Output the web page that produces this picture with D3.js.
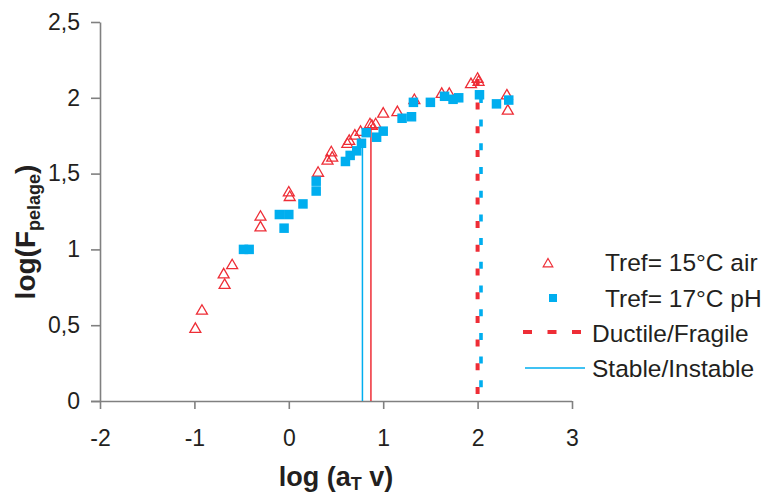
<!DOCTYPE html>
<html><head><meta charset="utf-8">
<script src="https://cdn.jsdelivr.net/npm/d3@7"></script>
<style>
body{margin:0;background:#fff;}
text{font-family:"Liberation Sans",Arial,sans-serif;fill:#231f20;}
</style></head>
<body>
<svg id="chart" width="769" height="495"></svg>
<script>
// ---- data ----
const airX = [-0.99,-0.92,-0.69,-0.68,-0.60,-0.30,-0.30,0.00,0.01,0.31,0.41,0.45,0.46,0.62,0.64,0.70,0.76,0.86,0.88,0.92,1.00,1.15,1.33,1.62,1.70,1.93,2.00,2.01,2.31,2.32];
const airY = [0.48,0.60,0.84,0.77,0.90,1.22,1.15,1.38,1.35,1.51,1.59,1.645,1.61,1.70,1.72,1.755,1.78,1.83,1.82,1.83,1.90,1.91,1.99,2.03,2.03,2.095,2.13,2.11,2.02,1.92];
const phX = [-0.48,-0.42,-0.10,0.00,-0.05,0.15,0.29,0.29,0.60,0.65,0.72,0.77,0.82,0.93,1.00,1.20,1.30,1.32,1.50,1.65,1.74,1.80,2.02,2.20,2.33];
const phY = [1.00,1.00,1.23,1.23,1.14,1.30,1.45,1.385,1.58,1.62,1.65,1.70,1.77,1.74,1.78,1.865,1.875,1.97,1.97,2.01,1.99,2.00,2.02,1.96,1.985];
// vertical markers: x position and top value
const stableX = [0.78, 0.87];       // cyan (pH), red (air)
const stableTop = [1.72, 1.82];
const ductileX = [2.00, 2.036];     // red (air), cyan (pH)
const ductileTop = [2.13, 2.00];
const xTicks = [-2,-1,0,1,2,3];
const yTicks = [0,0.5,1,1.5,2,2.5];
const legendLabels = ["Tref= 15°C air","Tref= 17°C pH","Ductile/Fragile","Stable/Instable"];

const RED = "#ee2d36", CYAN = "#00aeef", AXIS = "#808080";
const svg = d3.select("#chart");
const x = d3.scaleLinear().domain([-2,3]).range([100,572]);
const y = d3.scaleLinear().domain([0,2.5]).range([401,22]);
const fmt = d => String(d).replace(".", ",");

// axes
const gx = svg.append("g").attr("transform","translate(0,401)")
  .call(d3.axisBottom(x).tickValues(xTicks).tickSize(8).tickSizeOuter(0).tickPadding(21).tickFormat(fmt));
const gy = svg.append("g").attr("transform","translate(100,0)")
  .call(d3.axisLeft(y).tickValues(yTicks).tickSize(9).tickSizeOuter(0).tickPadding(11).tickFormat(fmt));
[gx,gy].forEach(g=>{
  g.selectAll("path,line").attr("stroke",AXIS).attr("stroke-width",1.6);
  g.selectAll("text").style("font-size","23px").attr("fill","#231f20");
});
gx.select(".domain").attr("d","M91,0.5H572");

// vertical lines: solid stable
const stableColors = [CYAN, RED];
svg.append("g").selectAll("line").data(stableX).join("line")
  .attr("x1",d=>x(d)).attr("x2",d=>x(d))
  .attr("y1",y(0)).attr("y2",(d,i)=>y(stableTop[i]))
  .attr("stroke",(d,i)=>stableColors[i]).attr("stroke-width",1.5);
// dashed ductile
const ductColors = [RED, CYAN];
const ductOffsets = [16.7, 10];
svg.append("g").selectAll("line").data(ductileX).join("line")
  .attr("x1",d=>x(d)).attr("x2",d=>x(d))
  .attr("y1",y(0)).attr("y2",(d,i)=>y(ductileTop[i]))
  .attr("stroke",(d,i)=>ductColors[i]).attr("stroke-width",(d,i)=>i?3.6:4)
  .attr("stroke-dasharray","7 16.7").attr("stroke-dashoffset",(d,i)=>ductOffsets[i]);

// triangles (air)
const tri = d3.symbol().type(d3.symbolTriangle).size(52);
svg.append("g").selectAll("path").data(airX).join("path")
  .attr("d",tri)
  .attr("transform",(d,i)=>`translate(${x(d)},${y(airY[i])+1})`)
  .attr("fill","none").attr("stroke",RED).attr("stroke-width",1.3);
// squares (pH)
const sq = 9.5;
svg.append("g").selectAll("rect").data(phX).join("rect")
  .attr("x",d=>x(d)-sq/2).attr("y",(d,i)=>y(phY[i])-sq/2)
  .attr("width",sq).attr("height",sq).attr("fill",CYAN);

// legend
const lg = svg.append("g");
lg.append("path").attr("d",d3.symbol().type(d3.symbolTriangle).size(40))
  .attr("transform","translate(548,264)").attr("fill","none").attr("stroke",RED).attr("stroke-width",1.2);
lg.append("rect").attr("x",549).attr("y",294).attr("width",8).attr("height",8).attr("fill",CYAN);
lg.append("line").attr("x1",523).attr("x2",581).attr("y1",332).attr("y2",332)
  .attr("stroke",RED).attr("stroke-width",4).attr("stroke-dasharray","9 15.5");
lg.append("line").attr("x1",525).attr("x2",585).attr("y1",368).attr("y2",368)
  .attr("stroke",CYAN).attr("stroke-width",1.3);
const lx = [605,605,592,592], ly = [271,307,342,377];
lg.selectAll("text").data(legendLabels).join("text")
  .attr("x",(d,i)=>lx[i]).attr("y",(d,i)=>ly[i]).style("font-size","24.5px").text(d=>d);

// axis titles
const xt = svg.append("text").attr("x",336).attr("y",486).attr("text-anchor","middle")
  .style("font-size","27px").style("font-weight","bold");
xt.append("tspan").text("log (a");
xt.append("tspan").text("T").style("font-size","18px").attr("dy",4);
xt.append("tspan").text(" v)").attr("dy",-4);
const yt = svg.append("text").attr("transform","translate(35,232) rotate(-90)").attr("text-anchor","middle")
  .style("font-size","28px").style("font-weight","bold");
yt.append("tspan").text("log(F");
yt.append("tspan").text("pelage").style("font-size","18px").attr("dy",5);
yt.append("tspan").text(")").attr("dy",-5);
</script>
</body></html>
